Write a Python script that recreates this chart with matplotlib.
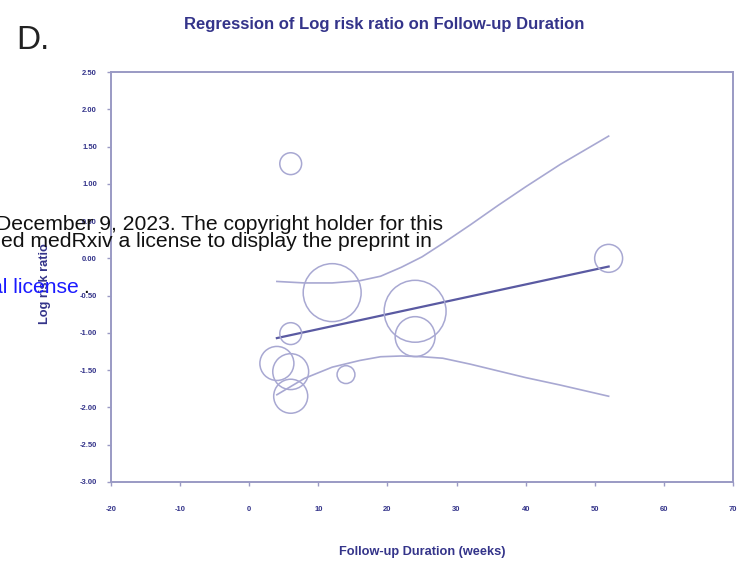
import matplotlib
matplotlib.use("Agg")
import matplotlib.pyplot as plt
import numpy as np

plt.rcParams['font.family'] = ['Liberation Sans', 'DejaVu Sans']

# studies: follow-up (weeks), log risk ratio, relative weight (%)
duration = [6, 12, 24, 24, 6, 4, 6, 6, 14, 52]
log_rr = [1.27, -0.46, -0.71, -1.05, -1.01, -1.41, -1.52, -1.85, -1.56, 0.0]
weight = [3.3, 23.2, 26.5, 11.0, 3.3, 8.0, 8.9, 8.0, 2.2, 5.4]

# fitted regression line (end points)
reg_x = [4, 52]
reg_y = [-1.07, -0.11]

# confidence limits
ci_x = [4, 8, 12, 16, 19, 22, 25, 28, 32, 36, 40, 45, 52]
ci_upper = [-0.31, -0.33, -0.33, -0.30, -0.24, -0.12, 0.02, 0.20, 0.45, 0.71, 0.96, 1.26, 1.64]
ci_lower = [-1.83, -1.61, -1.46, -1.37, -1.32, -1.31, -1.32, -1.34, -1.42, -1.51, -1.60, -1.70, -1.85]

x_ticks = [-20, -10, 0, 10, 20, 30, 40, 50, 60, 70]
y_ticks = [-3.0, -2.5, -2.0, -1.5, -1.0, -0.5, 0.0, 0.5, 1.0, 1.5, 2.0, 2.5]

navy = '#34348a'
frame = '#9a9ac4'
light = '#a8a8d2'

fig = plt.figure(figsize=(7.48, 5.67), dpi=100)
ax = fig.add_axes([0.1484, 0.150, 0.8316, 0.723])

ax.plot(ci_x, ci_upper, color=light, lw=1.2)
ax.plot(ci_x, ci_lower, color=light, lw=1.2)
ax.plot(reg_x, reg_y, color='#5a5aa2', lw=1.6)
ax.scatter(duration, log_rr, s=np.array(weight) * 75, facecolors='none',
           edgecolors=light, linewidths=1.1, zorder=3)

ax.set_xlim(-20, 70)
ax.set_ylim(-3.0, 2.5)
ax.set_xticks(x_ticks)
ax.set_xticklabels([str(t) for t in x_ticks])
ax.set_yticks(y_ticks)
ax.set_yticklabels([f"{t:.2f}" for t in y_ticks])
ax.tick_params(direction='out', length=3, width=1, color=frame,
               labelsize=5.5, labelcolor=navy)
ax.tick_params(axis='x', pad=14)
ax.tick_params(axis='y', pad=7)
for lab in ax.get_xticklabels() + ax.get_yticklabels():
    lab.set_fontweight('bold')
for sp in ax.spines.values():
    sp.set_color(frame)
    sp.set_linewidth(1.4)

ax.set_xlabel('Follow-up Duration (weeks)', fontsize=9.2, fontweight='bold',
              color=navy, labelpad=24)
ax.set_ylabel('Log risk ratio', fontsize=9.2, fontweight='bold', color=navy)
ax.yaxis.set_label_coords(-0.0965, 0.485)

fig.text(384 / 748, 1 - 24 / 567, 'Regression of Log risk ratio on Follow-up Duration',
         ha='center', va='center', fontsize=12, fontweight='bold', color=navy)
fig.text(16 / 748, 1 - 49 / 567, 'D.', fontsize=24, color='#222222',
         ha='left', va='baseline')

# medRxiv watermark overlaid on the page
fig.text(443 / 748, 1 - 230 / 567,
         'December 9, 2023. The copyright holder for this',
         fontsize=15.2, color='#111111', ha='right', va='baseline', zorder=10)
fig.text(432 / 748, 1 - 247 / 567,
         'ed medRxiv a license to display the preprint in',
         fontsize=15.2, color='#111111', ha='right', va='baseline', zorder=10)
fig.text(79 / 748, 1 - 293 / 567, 'al license', fontsize=15.2, color='#1a1aff',
         ha='right', va='baseline', zorder=10)
fig.text(83 / 748, 1 - 293 / 567, '.', fontsize=15.2, color='#111111',
         ha='left', va='baseline', zorder=10)

fig.savefig('out.png', dpi=100)
